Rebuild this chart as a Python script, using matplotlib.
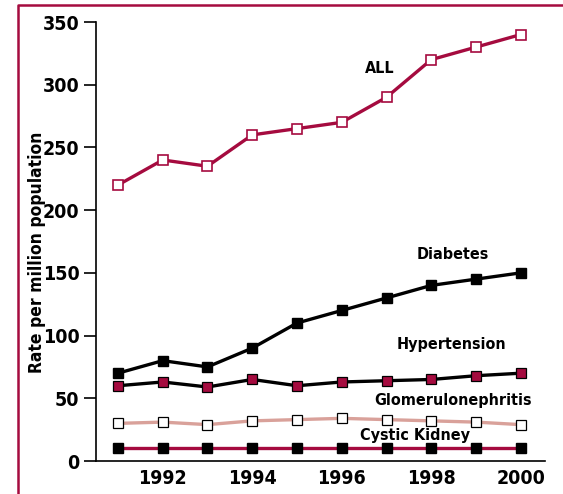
import matplotlib.pyplot as plt
from matplotlib.lines import Line2D

# 데이터
years = [1991, 1992, 1993, 1994, 1995, 1996, 1997, 1998, 1999, 2000]
all_rate = [220, 240, 235, 260, 265, 270, 290, 320, 330, 340]
diabetes = [70, 80, 75, 90, 110, 120, 130, 140, 145, 150]
hypertension = [60, 63, 59, 65, 60, 63, 64, 65, 68, 70]
glomerulo = [30, 31, 29, 32, 33, 34, 33, 32, 31, 29]
cystic = [10, 10, 10, 10, 10, 10, 10, 10, 10, 10]
x_ticks = [1992, 1994, 1996, 1998, 2000]
y_ticks = [0, 50, 100, 150, 200, 250, 300, 350]

crimson = '#A50B3F'
pink = '#D9A19A'

# 폰트 설정 - 좁은 굵은 글꼴
plt.rcParams['font.family'] = ['DejaVu Sans']
plt.rcParams['font.stretch'] = 'condensed'
plt.rcParams['font.weight'] = 'bold'

width_px = 563
height_px = 494
dpi = 100
fig = plt.figure(figsize=(width_px / dpi, height_px / dpi), dpi=dpi)
ax = fig.add_axes([96 / 563, 1 - 461 / 494, (545 - 96) / 563, (461 - 22) / 494])

# 바깥 테두리 (왼쪽, 위)
fig.add_artist(Line2D([18 / 563, 18 / 563, 1.0], [0.0, 1 - 5 / 494, 1 - 5 / 494],
                      color=crimson, linewidth=1.8))

ms = 7.5
lw = 2.4

ax.plot(years, cystic, color=crimson, linewidth=lw, marker='s', markersize=ms,
        markerfacecolor='black', markeredgecolor='black', clip_on=False, zorder=3)
ax.plot(years, glomerulo, color=pink, linewidth=lw, marker='s', markersize=ms,
        markerfacecolor='white', markeredgecolor='black', markeredgewidth=0.9,
        clip_on=False, zorder=3)
ax.plot(years, hypertension, color='black', linewidth=lw, marker='s', markersize=ms,
        markerfacecolor=crimson, markeredgecolor='black', markeredgewidth=0.9,
        clip_on=False, zorder=3)
ax.plot(years, diabetes, color='black', linewidth=lw, marker='s', markersize=ms,
        markerfacecolor='black', markeredgecolor='black', clip_on=False, zorder=3)
ax.plot(years, all_rate, color=crimson, linewidth=lw, marker='s', markersize=ms,
        markerfacecolor='white', markeredgecolor=crimson, markeredgewidth=1.2,
        clip_on=False, zorder=3)

# 라벨
label_kw = dict(fontsize=11.5, fontweight='bold', ha='center', va='center')
ax.text(1996.85, 313, 'ALL', **label_kw)
ax.text(1998.48, 165, 'Diabetes', **label_kw)
ax.text(1998.46, 93, 'Hypertension', **label_kw)
ax.text(1998.48, 48.5, 'Glomerulonephritis', **label_kw)
ax.text(1997.63, 20, 'Cystic Kidney', **label_kw)

# 축 설정
ax.set_xlim(1990.51, 2000.54)
ax.set_ylim(0, 350)
ax.set_xticks(x_ticks)
ax.set_xticklabels([str(v) for v in x_ticks])
ax.set_yticks(y_ticks)
ax.tick_params(axis='x', length=0, pad=6, labelsize=14)
ax.tick_params(axis='y', direction='out', length=9, width=1.2, pad=3, labelsize=14)
for lab in ax.get_xticklabels() + ax.get_yticklabels():
    lab.set_fontweight('bold')

ax.spines['top'].set_visible(False)
ax.spines['right'].set_visible(False)
ax.spines['left'].set_linewidth(1.2)
ax.spines['bottom'].set_linewidth(1.2)

ax.set_ylabel('Rate per million population', fontsize=12.5, fontweight='bold')
ax.yaxis.set_label_coords(-0.111, 0.476)

fig.savefig('out.png', dpi=dpi)
